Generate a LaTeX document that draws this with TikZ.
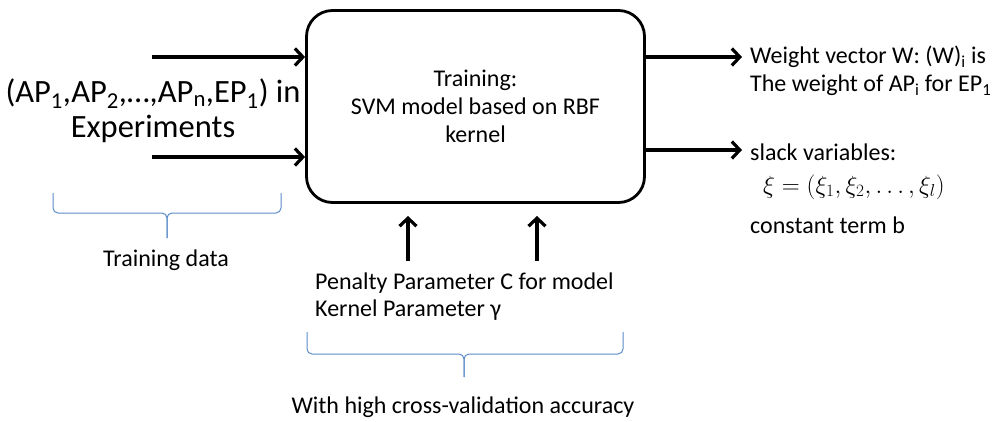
\documentclass[tikz,border=0pt]{standalone}
\usepackage[no-math]{fontspec}
\setmainfont{Carlito}
\usetikzlibrary{arrows.meta}
\definecolor{bracecol}{HTML}{5B8CC8}
\begin{document}
\begin{tikzpicture}[x=1pt,y=-1pt,
  arr/.style={line width=3.2pt, -{Straight Barb[length=8pt,width=17pt]}},
  brc/.style={draw=bracecol, line width=1pt, rounded corners=5pt},
  big/.style={font=\fontsize{32.5}{35}\selectfont, align=center, inner sep=0pt},
  txt/.style={font=\fontsize{24}{28}\selectfont, align=left, inner sep=0pt},
  ctxt/.style={font=\fontsize{24}{28}\selectfont, align=center, inner sep=0pt},
]
\useasboundingbox (0,0) rectangle (997,421);
% main box
\node[draw, line width=2.8pt, rounded corners=26pt, minimum width=338pt, minimum height=192pt, inner sep=0pt] (box) at (475.5,106.5) {};
\node[ctxt] (boxtxt) at (box.center) {Training:\\SVM model based on RBF\\kernel};
% inputs
\node[big] (inp) at (153,110.5) {(AP\textsubscript{1},AP\textsubscript{2},\dots,AP\textsubscript{n},EP\textsubscript{1}) in\\Experiments};
\coordinate (l1) at (152,57);
\coordinate (l2) at (152,157);
\draw[arr] (l1) -- (l1 -| box.west);
\draw[arr] (l2) -- (l2 -| box.west);
% outputs
\coordinate (r1) at (742,57);
\coordinate (r2) at (742,150);
\draw[arr] (r1 -| box.east) -- (r1);
\draw[arr] (r2 -| box.east) -- (r2);
\node[txt, anchor=west] (out1) at (750,71) {Weight vector W: (W)\textsubscript{i} is\\The weight of AP\textsubscript{i} for EP\textsubscript{1}};
\node[txt, anchor=west] (out2) at (750,152) {slack variables:};
\node[anchor=west, inner sep=0pt, font=\fontsize{24}{28}\selectfont] (out3) at (763,187) {$\xi=\left(\xi_1,\xi_2,\ldots,\xi_l\right)$};
\node[txt, anchor=west] (out4) at (750,225) {constant term b};
% parameters
\coordinate (u1s) at (408,261);
\coordinate (u1e) at (408,216);
\coordinate (u2s) at (537,261);
\coordinate (u2e) at (537,216);
\draw[arr] (u1s) -- (u1e);
\draw[arr] (u2s) -- (u2e);
\node[txt, anchor=west, font=\fontsize{24}{27}\selectfont] (par) at (315,296.5) {Penalty Parameter C for model\\Kernel Parameter γ};
% braces
\draw[brc] (53,193) -- (53,213) -- (167,213) -- (167,238);
\draw[brc] (281,193) -- (281,213) -- (167,213) -- (167,238);
\node[ctxt] (trd) at (166,260) {Training data};
\draw[brc] (307,332) -- (307,354) -- (464,354) -- (464,377);
\draw[brc] (623,332) -- (623,354) -- (464,354) -- (464,377);
\node[ctxt] (cv) at (463,407) {With high cross-validation accuracy};
\end{tikzpicture}
\end{document}
